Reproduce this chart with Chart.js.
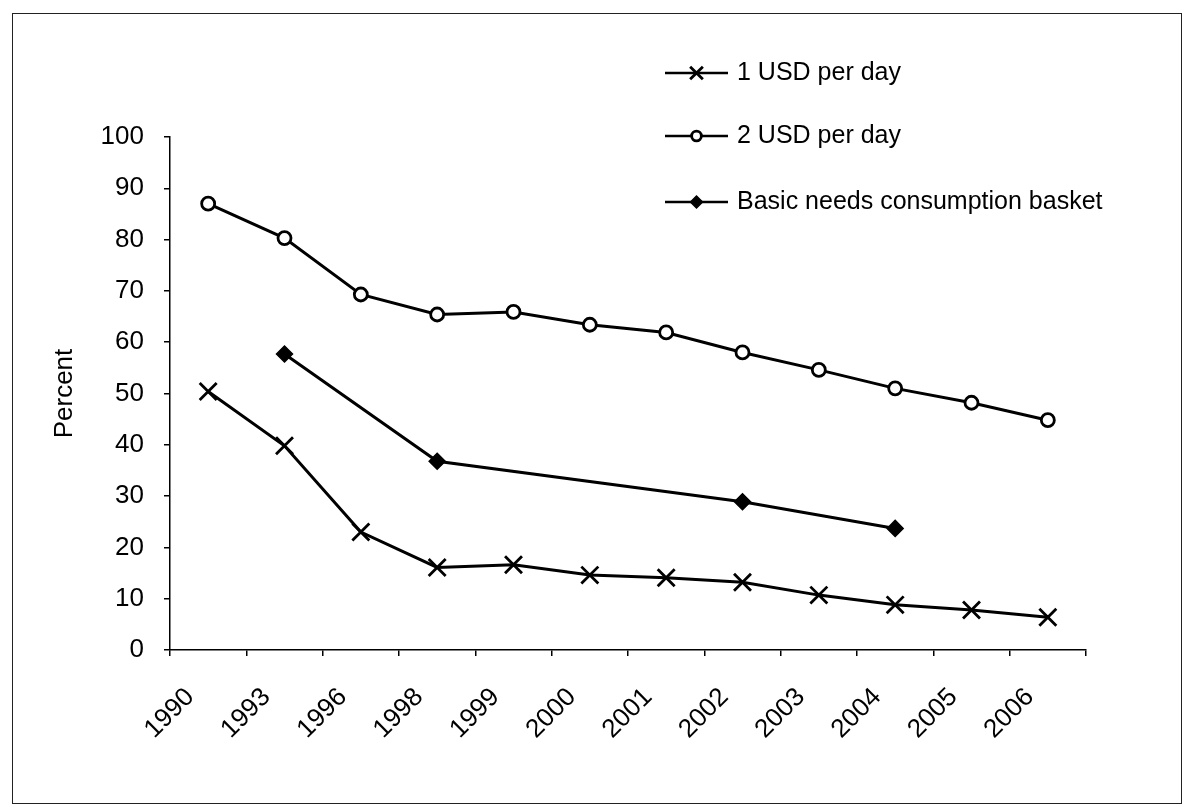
<!DOCTYPE html>
<html>
<head>
<meta charset="utf-8">
<script src="https://cdn.jsdelivr.net/npm/chart.js@4"></script>
<style>
    html, body { margin: 0; padding: 0; background: #fff; }
    .wrap { position: relative; width: 1186px; height: 812px; }
    .frame { position: absolute; left: 12px; top: 13px; width: 1168px; height: 789px; border: 1.5px solid #222; pointer-events: none; }
</style>
</head>
<body>
<div class="wrap">
    <canvas id="povertyChart" width="1186" height="812"></canvas>
    <div class="frame"></div>
</div>
<script>
// Datos (porcentaje de poblacion)
const years = ['1990', '1993', '1996', '1998', '1999', '2000', '2001', '2002', '2003', '2004', '2005', '2006'];
const usd1 = [50.4, 39.8, 23.0, 16.1, 16.6, 14.6, 14.1, 13.2, 10.7, 8.8, 7.8, 6.4];
const usd2 = [87.0, 80.3, 69.3, 65.4, 65.9, 63.4, 61.9, 58.0, 54.6, 51.0, 48.2, 44.8];
const basket = [null, 57.7, null, 36.8, null, null, null, 28.9, null, 23.7, null, null];
const yTicks = [0, 10, 20, 30, 40, 50, 60, 70, 80, 90, 100];
const seriesNames = ['1 USD per day', '2 USD per day', 'Basic needs consumption basket'];

const FONT = '"Liberation Sans", Arial, sans-serif';
Chart.defaults.font.family = FONT;
Chart.defaults.color = '#000';

// Leyenda vertical arriba a la derecha, como en el original
const sideLegend = {
    id: 'sideLegend',
    afterDraw(chart) {
        const ctx = chart.ctx;
        const x0 = 665, x1 = 728, rows = [73, 136, 202];
        ctx.save();
        chart.data.datasets.forEach((ds, i) => {
            const y = rows[i];
            ctx.strokeStyle = '#000';
            ctx.lineWidth = 2.5;
            ctx.beginPath();
            ctx.moveTo(x0, y);
            ctx.lineTo(x1, y);
            ctx.stroke();
            ctx.fillStyle = ds.pointBackgroundColor;
            ctx.strokeStyle = '#000';
            ctx.lineWidth = ds.pointBorderWidth;
            Chart.helpers.drawPoint(ctx, {
                pointStyle: ds.pointStyle,
                radius: ds.pointRadius * 0.75,
                rotation: 0,
                borderWidth: ds.pointBorderWidth
            }, (x0 + x1) / 2, y);
            ctx.fillStyle = '#000';
            ctx.font = '25px ' + FONT;
            ctx.textBaseline = 'middle';
            ctx.fillText(ds.label, 737, y);
        });
        ctx.restore();
    }
};

new Chart(document.getElementById('povertyChart'), {
    type: 'line',
    data: {
        labels: years,
        datasets: [
            {
                label: seriesNames[0],
                data: usd1,
                borderColor: '#000',
                borderWidth: 3,
                pointStyle: 'crossRot',
                pointRadius: 12,
                pointBorderWidth: 2.8,
                pointBorderColor: '#000',
                pointBackgroundColor: '#000'
            },
            {
                label: seriesNames[1],
                data: usd2,
                borderColor: '#000',
                borderWidth: 3,
                pointStyle: 'circle',
                pointRadius: 6.5,
                pointBorderWidth: 2.8,
                pointBorderColor: '#000',
                pointBackgroundColor: '#fff'
            },
            {
                label: seriesNames[2],
                data: basket,
                spanGaps: true,
                borderColor: '#000',
                borderWidth: 3,
                pointStyle: 'rectRot',
                pointRadius: 8,
                pointBorderWidth: 1.5,
                pointBorderColor: '#000',
                pointBackgroundColor: '#000'
            }
        ]
    },
    options: {
        responsive: false,
        animation: false,
        layout: { padding: { top: 137, right: 100, left: 0, bottom: 0 } },
        plugins: {
            legend: { display: false },
            tooltip: { enabled: false }
        },
        scales: {
            x: {
                offset: true,
                grid: { offset: true, drawOnChartArea: false, drawTicks: true, tickLength: 6, color: '#000', lineWidth: 1.5 },
                border: { color: '#000', width: 1.5 },
                ticks: { maxRotation: 45, minRotation: 45, padding: 26, labelOffset: -18, font: { size: 26 } },
                afterFit: (s) => { s.height = 162; }
            },
            y: {
                min: 0,
                max: 100,
                afterBuildTicks: (s) => { s.ticks = yTicks.map(v => ({ value: v })); },
                grid: { drawOnChartArea: false, drawTicks: true, tickLength: 6, color: '#000', lineWidth: 1.5 },
                border: { color: '#000', width: 1.5 },
                ticks: { padding: 20, font: { size: 26 } },
                title: { display: true, text: 'Percent', font: { size: 26 }, padding: { top: 49, bottom: 0 } },
                afterFit: (s) => { s.width = 170; }
            }
        }
    },
    plugins: [sideLegend]
});
</script>
</body>
</html>
